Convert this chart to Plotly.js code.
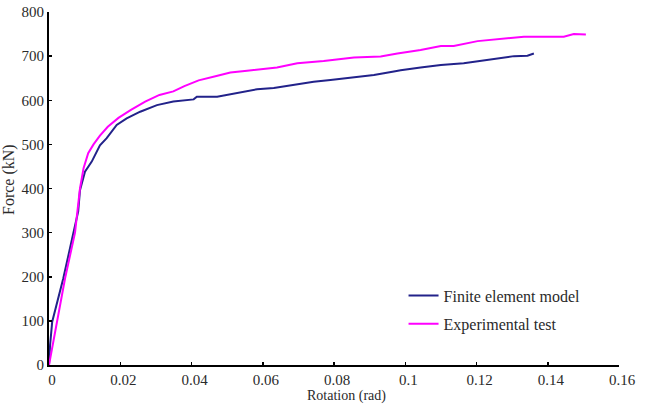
<!DOCTYPE html>
<html>
<head>
<meta charset="utf-8">
<script src="https://cdn.plot.ly/plotly-3.0.1.min.js"></script>
<style>
html,body{margin:0;padding:0;background:#fff;}
#chart{width:645px;height:404px;}
</style>
</head>
<body>
<div id="chart"></div>
<script>
// Finite element model (rotation rad, force kN)
const femRotation = [0, 0.0003, 0.0009, 0.0040, 0.0067, 0.0082, 0.0087, 0.0101, 0.0120, 0.0143, 0.0162, 0.0190, 0.0218, 0.0256, 0.0303, 0.0349, 0.0406, 0.0415, 0.0472, 0.0537, 0.0584, 0.0631, 0.0678, 0.0743, 0.0790, 0.0856, 0.0912, 0.0968, 0.0987, 0.1043, 0.1100, 0.1164, 0.1212, 0.1259, 0.1305, 0.1343, 0.1361];
const femForce    = [0, 45, 98, 196, 294, 348, 396, 438, 461, 498, 514, 544, 559, 574, 589, 597, 602, 608, 608, 617, 625, 628, 634, 642, 646, 652, 657, 665, 668, 674, 680, 684, 690, 695, 700, 701, 706];

// Experimental test
const expRotation = [0, 0.0045, 0.0073, 0.0087, 0.0097, 0.0110, 0.0125, 0.0143, 0.0165, 0.0195, 0.0230, 0.0270, 0.0310, 0.0349, 0.0380, 0.0420, 0.0470, 0.0509, 0.0556, 0.0640, 0.0697, 0.0771, 0.0856, 0.0931, 0.0978, 0.1043, 0.1100, 0.1136, 0.1203, 0.1259, 0.1333, 0.1445, 0.1473, 0.1507];
const expForce    = [0, 196, 300, 400, 446, 480, 500, 520, 540, 560, 578, 597, 612, 620, 632, 645, 655, 663, 667, 674, 684, 689, 697, 699, 706, 714, 723, 723, 734, 739, 744, 744, 750, 749];

const seriesNames = ["Finite element model", "Experimental test"];
const xTicks = [0, 0.02, 0.04, 0.06, 0.08, 0.1, 0.12, 0.14, 0.16];
const xTickLabels = ["0", "0.02", "0.04", "0.06", "0.08", "0.1", "0.12", "0.14", "0.16"];
const yTicks = [0, 100, 200, 300, 400, 500, 600, 700, 800];
const xTitle = "Rotation (rad)";
const yTitle = "Force (kN)";

const FONT = "Liberation Serif, Times New Roman, serif";
const TXT = "#2a2a2a";

const traces = [
  {x: femRotation, y: femForce, name: seriesNames[0], mode: "lines", type: "scatter",
   line: {color: "#22228a", width: 2}, legend: "legend"},
  {x: expRotation, y: expForce, name: seriesNames[1], mode: "lines", type: "scatter",
   line: {color: "#ff00ff", width: 2}, legend: "legend2"}
];

const axisCommon = {
  showgrid: false, zeroline: false, showline: true, linecolor: "#000", linewidth: 2,
  ticks: "inside", ticklen: 3, tickwidth: 1.5, tickcolor: "#000",
  tickfont: {family: FONT, size: 15, color: TXT}
};

const layout = {
  width: 645, height: 404,
  margin: {l: 49, r: 26, t: 12, b: 39},
  paper_bgcolor: "#fff", plot_bgcolor: "#fff",
  font: {family: FONT, size: 16, color: TXT},
  xaxis: Object.assign({}, axisCommon, {
    range: [0, 0.16], tickvals: xTicks, ticktext: xTickLabels, ticklabelshift: 3
  }),
  yaxis: Object.assign({}, axisCommon, {
    range: [0, 800], tickvals: yTicks
  }),
  annotations: [
    {text: xTitle, xref: "paper", yref: "paper", x: (346 - 49) / 570, y: -(396 - 365) / 353,
     xanchor: "center", yanchor: "middle", showarrow: false, font: {family: FONT, size: 14, color: TXT}},
    {text: yTitle, xref: "paper", yref: "paper", x: -(49 - 9) / 570, y: (365 - 180) / 353,
     xanchor: "center", yanchor: "middle", textangle: -90, showarrow: false, font: {family: FONT, size: 16, color: TXT}}
  ],
  showlegend: true,
  legend: {x: 0.622, y: 0.245, xanchor: "left", yanchor: "top", bgcolor: "rgba(0,0,0,0)",
           font: {family: FONT, size: 16, color: TXT}, itemwidth: 30},
  legend2: {x: 0.622, y: 0.165, xanchor: "left", yanchor: "top", bgcolor: "rgba(0,0,0,0)",
           font: {family: FONT, size: 16, color: TXT}, itemwidth: 30}
};

Plotly.newPlot("chart", traces, layout, {displayModeBar: false, staticPlot: true});
</script>
</body>
</html>
